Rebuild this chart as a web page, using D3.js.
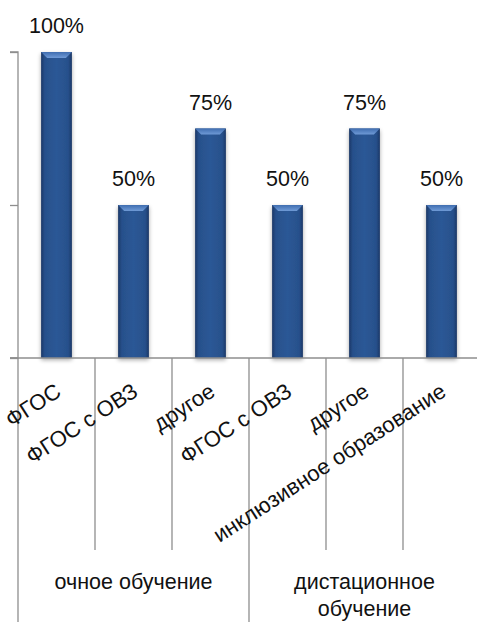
<!DOCTYPE html>
<html>
<head>
<meta charset="utf-8">
<script src="https://cdn.jsdelivr.net/npm/d3@7/dist/d3.min.js"></script>
<style>
  html, body { margin: 0; padding: 0; background: #fff; }
  svg { display: block; }
  text { font-family: "Liberation Sans", Arial, sans-serif; fill: #111; }
</style>
</head>
<body>
<svg id="chart" width="477" height="622"></svg>
<script>
// Share of programmes by learning mode and type
const categories = ["ФГОС", "ФГОС с ОВЗ", "другое", "ФГОС с ОВЗ", "другое", "инклюзивное образование"];
const categoryGroup = [0, 0, 0, 1, 1, 1];
const values = [100, 50, 75, 50, 75, 50];
const groupLines = [["очное обучение"], ["дистационное", "обучение"]];
const yTicks = [0, 50, 100];

const svg = d3.select("#chart");
const W = 477, H = 622;
const plotLeft = 18, plotRight = 480, plotTop = 52, plotBase = 358;

const x = d3.scaleBand()
  .domain(d3.range(categories.length))
  .range([plotLeft, plotRight])
  .paddingInner(0.6)
  .paddingOuter(0.3);
const step = x.step();

const y = d3.scaleLinear().domain([0, 100]).range([plotBase, plotTop]);

// gradients for the bevelled bars
const defs = svg.append("defs");
const g1 = defs.append("linearGradient").attr("id", "barFill").attr("x1", 0).attr("x2", 1).attr("y1", 0).attr("y2", 0);
g1.append("stop").attr("offset", 0).attr("stop-color", "#1b3866");
g1.append("stop").attr("offset", 0.12).attr("stop-color", "#27508b");
g1.append("stop").attr("offset", 0.5).attr("stop-color", "#2c5896");
g1.append("stop").attr("offset", 0.88).attr("stop-color", "#27508b");
g1.append("stop").attr("offset", 1).attr("stop-color", "#1b3866");
const g2 = defs.append("linearGradient").attr("id", "bevel").attr("x1", 0).attr("x2", 0).attr("y1", 0).attr("y2", 1);
g2.append("stop").attr("offset", 0).attr("stop-color", "#3f6db0");
g2.append("stop").attr("offset", 1).attr("stop-color", "#6f9ad6");
const f = defs.append("filter").attr("id", "shadow").attr("x", -0.3).attr("y", -0.1).attr("width", 1.6).attr("height", 1.3);
f.append("feGaussianBlur").attr("in", "SourceAlpha").attr("stdDeviation", 2);
f.append("feOffset").attr("dx", 0).attr("dy", 2).attr("result", "b");
f.append("feComponentTransfer").append("feFuncA").attr("type", "linear").attr("slope", 0.35);
const fm = f.append("feMerge");
fm.append("feMergeNode");
fm.append("feMergeNode").attr("in", "SourceGraphic");

const axisColor = "#8e8e8e";

// value axis
const yAxis = svg.append("g")
  .attr("transform", `translate(${plotLeft},0)`)
  .call(d3.axisLeft(y).tickValues(yTicks).tickSize(8).tickFormat(""));
yAxis.select(".domain").attr("stroke", axisColor).attr("stroke-width", 1.3).attr("d", `M-8,${plotTop}H0V${plotBase}H-8`);
yAxis.selectAll(".tick line").attr("stroke", axisColor).attr("stroke-width", 1.3);

// category separators: short between items, long at group borders
const bounds = d3.range(categories.length + 1);
svg.append("g").selectAll("line").data(bounds).join("line")
  .attr("x1", i => plotLeft + i * step)
  .attr("x2", i => plotLeft + i * step)
  .attr("y1", plotBase)
  .attr("y2", i => (i === 0 || i === categories.length || categoryGroup[i] !== categoryGroup[i - 1]) ? H : 550)
  .attr("stroke", axisColor).attr("stroke-width", 1.3);

// bars
const bars = svg.append("g").selectAll("g").data(values).join("g");
bars.append("rect")
  .attr("x", (d, i) => x(i))
  .attr("y", d => y(d))
  .attr("width", x.bandwidth())
  .attr("height", d => plotBase - y(d))
  .attr("fill", "url(#barFill)")
  .attr("filter", "url(#shadow)");
bars.append("path")
  .attr("d", (d, i) => {
    const x0 = x(i), w = x.bandwidth(), t = y(d), b = 6;
    return `M${x0},${t}H${x0 + w}L${x0 + w - b},${t + b}H${x0 + b}Z`;
  })
  .attr("fill", "url(#bevel)");

// baseline on top of bars
svg.append("line")
  .attr("x1", plotLeft - 8).attr("x2", plotRight)
  .attr("y1", plotBase).attr("y2", plotBase)
  .attr("stroke", axisColor).attr("stroke-width", 1.3);

// value labels
svg.append("g").selectAll("text").data(values).join("text")
  .attr("x", (d, i) => x(i) + x.bandwidth() / 2)
  .attr("y", d => y(d) - 19)
  .attr("text-anchor", "middle")
  .attr("font-size", 21.5)
  .text(d => d + "%");

// rotated category labels
svg.append("g").selectAll("text").data(categories).join("text")
  .attr("transform", (d, i) => `translate(${x(i) + x.bandwidth() / 2 + 6},${plotBase + 37}) rotate(-33)`)
  .attr("text-anchor", "end")
  .attr("font-size", 22)
  .text(d => d);

// group labels
const gc = [0, 1].map(g => {
  const idx = categoryGroup.map((v, i) => v === g ? i : -1).filter(i => i >= 0);
  return plotLeft + (d3.min(idx) + d3.max(idx) + 1) / 2 * step;
});
svg.append("g").selectAll("text").data(groupLines).join("text")
  .attr("x", (d, i) => gc[i])
  .attr("y", 589)
  .attr("text-anchor", "middle")
  .attr("font-size", 21.5)
  .selectAll("tspan").data(d => d).join("tspan")
  .attr("x", function () { return d3.select(this.parentNode).attr("x"); })
  .attr("dy", (d, j) => j === 0 ? 0 : 27)
  .text(d => d);
</script>
</body>
</html>
